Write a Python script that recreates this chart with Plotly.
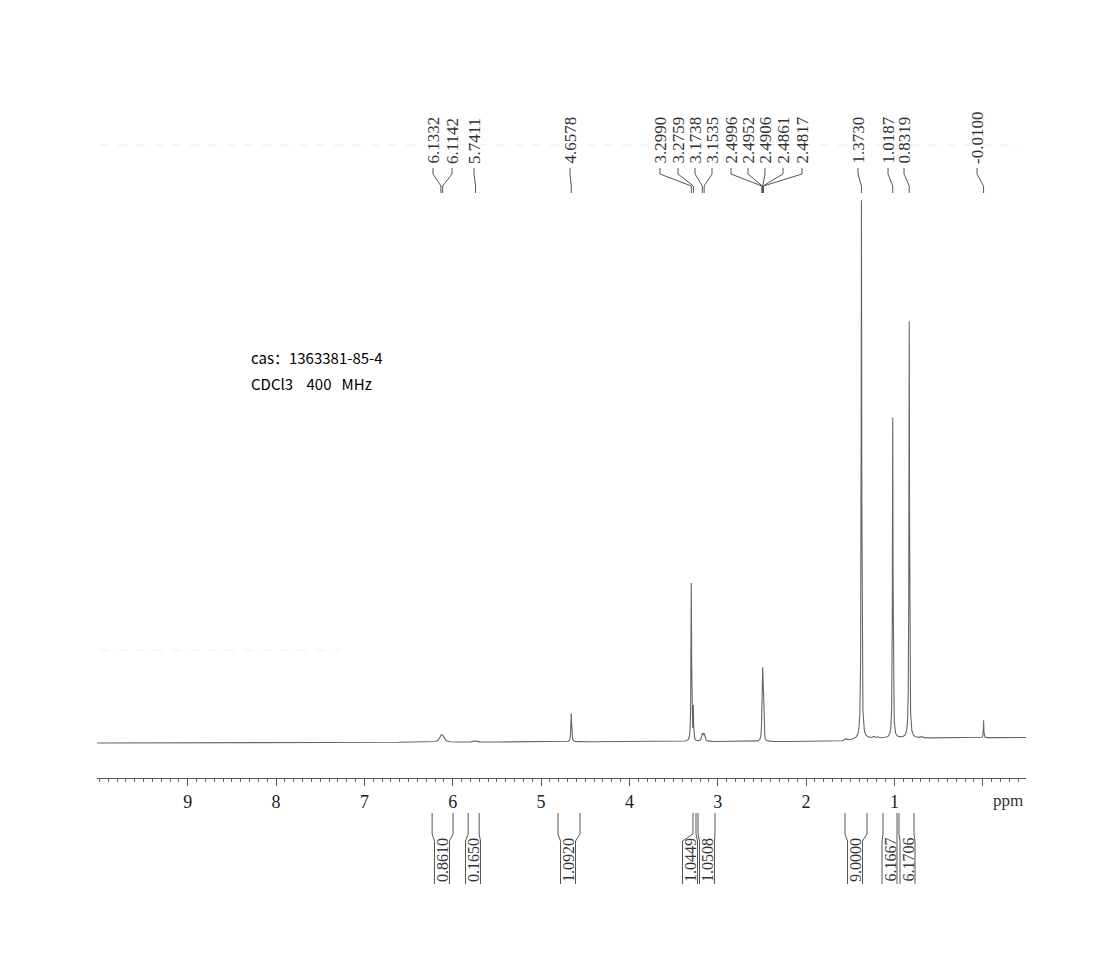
import numpy as np
import plotly.graph_objects as go

# reference canvas and page offset (default body margin of the html page)
REF_W, REF_H = 1117, 963
OFF = 8
W, H = REF_W - 2 * OFF, REF_H - 2 * OFF

# ---------------- axis (ppm) ----------------
axis_left_ppm = 10.027
axis_right_ppm = -0.490
tick_values = [0, 1, 2, 3, 4, 5, 6, 7, 8, 9]
tick_labels = ["", "1", "2", "3", "4", "5", "6", "7", "8", "9"]

# ---------------- spectrum peaks ----------------
peak_ppm = [6.1332, 6.1142, 5.7411, 4.6578, 3.2990, 3.2759, 3.1738, 3.1535,
            2.4996, 2.4952, 2.4906, 2.4861, 2.4817, 1.3730, 1.0187, 0.8319,
            -0.0100, 1.55, 1.23, 1.19, 0.69]
peak_height = [4.7, 4.7, 1.2, 28.5, 158.0, 32.0, 7.0, 7.0,
               15.0, 29.0, 44.0, 29.0, 15.0, 538.5, 320.5, 416.5,
               17.5, 2.0, 1.5, 1.5, 1.5]
peak_hwhm = [0.02, 0.02, 0.02, 0.005, 0.004, 0.003, 0.01, 0.01,
             0.004, 0.004, 0.004, 0.004, 0.004, 0.004, 0.004, 0.004,
             0.003, 0.01, 0.01, 0.01, 0.01]

# baseline level (pixels above bottom of canvas) read at a few positions
baseline_ppm = [10.03, 4.0, 2.1, 1.6, 1.35, -0.49]
baseline_level = [220.0, 221.3, 221.4, 221.8, 224.5, 225.5]

# ---------------- peak labels ----------------
peak_label_text = ["6.1332", "6.1142", "5.7411", "4.6578", "3.2990", "3.2759",
                   "3.1738", "3.1535", "2.4996", "2.4952", "2.4906", "2.4861",
                   "2.4817", "1.3730", "1.0187", "0.8319", "-0.0100"]
peak_label_ppm = [6.1332, 6.1142, 5.7411, 4.6578, 3.2990, 3.2759,
                  3.1738, 3.1535, 2.4996, 2.4952, 2.4906, 2.4861,
                  2.4817, 1.3730, 1.0187, 0.8319, -0.0100]
peak_label_px = [433, 452, 474, 570, 660, 678, 695, 712, 731, 748, 765, 783,
                 802, 858, 888, 904, 977]

# ---------------- integrals ----------------
integral_text = ["0.8610", "0.1650", "1.0920", "1.0449", "1.0508", "9.0000",
                 "6.1667", "6.1706"]
integral_from = [6.233, 5.825, 4.808, 3.280, 3.223, 1.559, 1.129, 0.948]
integral_to = [5.996, 5.701, 4.559, 3.246, 3.031, 1.310, 0.970, 0.778]
integral_label_px = [442, 473, 568, 690, 707, 855, 889.5, 907.5]

# ---------------- layout helpers (reference-pixel based) ----------------
axis_left_px, axis_right_px, axis_line_px = 97, 1026, 778


def px_to_ppm(px):
    return axis_left_ppm + (px - axis_left_px) * (axis_right_ppm - axis_left_ppm) / (axis_right_px - axis_left_px)


def yv(ypix):
    # reference y pixel -> data y value (pixels above bottom of the reference canvas)
    return REF_H - ypix


# data y range covering the figure area
y_lo = REF_H - (OFF + H)
y_hi = REF_H - OFF

# ---------------- build spectrum ----------------
grid = np.arange(axis_left_ppm, axis_right_ppm, -0.0005)
x = np.sort(np.concatenate([grid, np.array(peak_ppm)]))[::-1]
y = np.interp(x[::-1], baseline_ppm[::-1], baseline_level[::-1])[::-1]
for p, h, g in zip(peak_ppm, peak_height, peak_hwhm):
    y = y + h / (1.0 + ((x - p) / g) ** 2)

fig = go.Figure()
fig.add_trace(go.Scatter(x=x, y=y, mode="lines",
                         line=dict(color="#666666", width=1.1),
                         hoverinfo="skip", showlegend=False))

shapes = []
annotations = []
line_col = "#555555"

# faint scan artifacts
shapes.append(dict(type="line", xref="x", yref="y",
                   x0=px_to_ppm(100), x1=px_to_ppm(1020), y0=yv(145), y1=yv(145),
                   line=dict(color="#ececec", width=1, dash="dash")))
shapes.append(dict(type="line", xref="x", yref="y",
                   x0=px_to_ppm(100), x1=px_to_ppm(340), y0=yv(650), y1=yv(650),
                   line=dict(color="#f0f0f0", width=1, dash="dash")))

# peak labels and connectors
for txt, pk, lpx in zip(peak_label_text, peak_label_ppm, peak_label_px):
    lx = px_to_ppm(lpx)
    annotations.append(dict(x=lx, y=yv(165), xref="x", yref="y", text=txt,
                            textangle=-90, showarrow=False, xanchor="center",
                            yanchor="bottom", borderpad=0,
                            font=dict(family="Liberation Serif", size=17, color="#333333")))
    path = f"M {lx},{yv(168)} L {lx},{yv(174)} L {pk},{yv(186)} L {pk},{yv(193)}"
    shapes.append(dict(type="path", xref="x", yref="y", path=path,
                       line=dict(color=line_col, width=1)))

# integrals
half_box = 7.5
for txt, a, b, cpx in zip(integral_text, integral_from, integral_to, integral_label_px):
    bl = px_to_ppm(cpx - half_box)
    br = px_to_ppm(cpx + half_box)
    for top, bot in ((a, bl), (b, br)):
        path = f"M {top},{yv(813)} L {top},{yv(834)} L {bot},{yv(841)} L {bot},{yv(884)}"
        shapes.append(dict(type="path", xref="x", yref="y", path=path,
                           line=dict(color=line_col, width=1)))
    annotations.append(dict(x=px_to_ppm(cpx), y=yv(883), xref="x", yref="y", text=txt,
                            textangle=-90, showarrow=False, xanchor="center",
                            yanchor="bottom", borderpad=0,
                            font=dict(family="Liberation Serif", size=16, color="#333333")))

# ppm unit label
annotations.append(dict(x=px_to_ppm(1008), y=yv(800), xref="x", yref="y", text="ppm",
                        showarrow=False, xanchor="center", yanchor="middle",
                        font=dict(family="Liberation Serif", size=17, color="#333333")))

# sample info
annotations.append(dict(x=(249 - OFF) / W, y=1 - (357 - OFF) / H, xref="paper", yref="paper",
                        text="cas：1363381-85-4", showarrow=False,
                        xanchor="left", yanchor="middle",
                        font=dict(family="Noto Sans CJK SC", size=15, color="#000000")))
annotations.append(dict(x=(249 - OFF) / W, y=1 - (383 - OFF) / H, xref="paper", yref="paper",
                        text="CDCl3\u00a0\u00a0\u00a0\u00a0400\u00a0\u00a0\u00a0MHz", showarrow=False,
                        xanchor="left", yanchor="middle",
                        font=dict(family="Noto Sans CJK SC", size=15, color="#000000")))

fig.update_layout(
    width=W, height=H,
    margin=dict(l=0, r=0, t=0, b=0),
    paper_bgcolor="white", plot_bgcolor="white",
    shapes=shapes, annotations=annotations,
    xaxis=dict(domain=[(axis_left_px - OFF) / W, (axis_right_px - OFF) / W],
               range=[axis_left_ppm, axis_right_ppm],
               anchor="free", position=(OFF + H - axis_line_px) / H,
               showline=True, linecolor="#555555", linewidth=1,
               ticks="outside", ticklen=7, tickcolor="#555555", tickwidth=1,
               tickvals=tick_values, ticktext=tick_labels,
               tickfont=dict(family="Liberation Serif", size=18, color="#222222"),
               minor=dict(dtick=0.1, tick0=0, ticks="outside", ticklen=3,
                          tickcolor="#666666", tickwidth=1, showgrid=False),
               showgrid=False, zeroline=False, fixedrange=True),
    yaxis=dict(domain=[0, 1], range=[y_lo, y_hi], visible=False, fixedrange=True),
)

fig.write_html("out.html")
